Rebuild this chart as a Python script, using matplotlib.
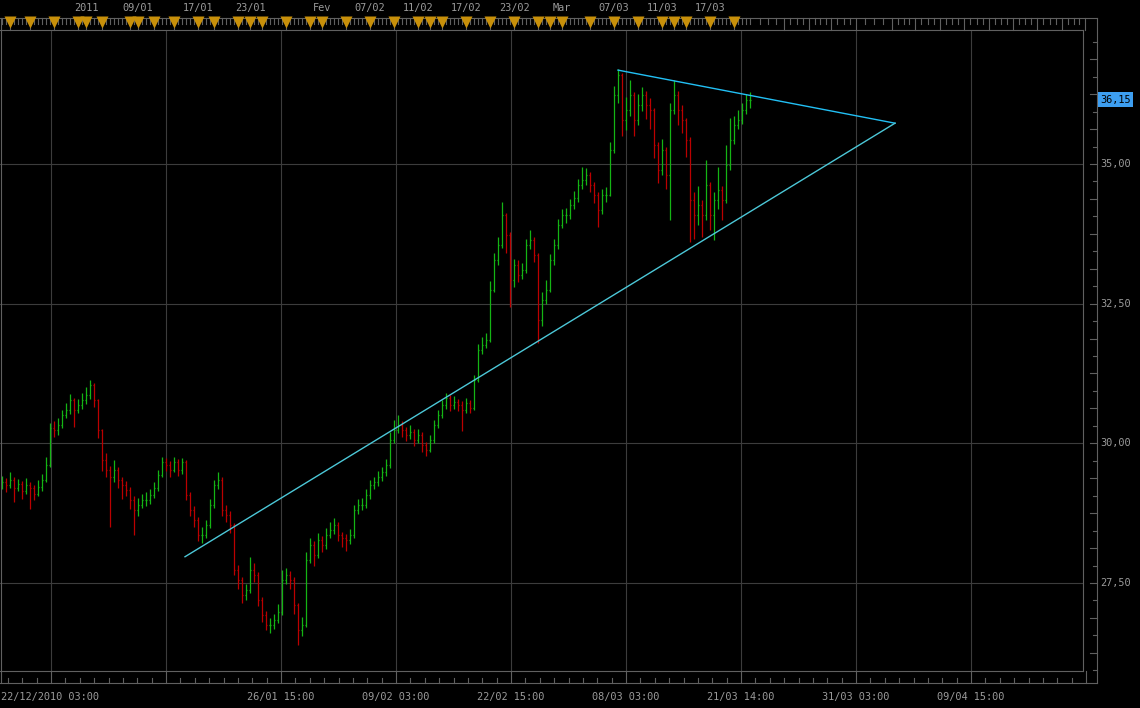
import numpy as np
import matplotlib
matplotlib.use("Agg")
import matplotlib.pyplot as plt

# hourly-ish OHLC bars (open = previous close)
first_open = 29.28
closes = [
    29.30, 29.25, 29.35, 29.20, 29.28, 29.15, 29.25, 29.20, 29.10, 29.22, 29.35,
    29.62, 30.27, 30.24, 30.33, 30.51, 30.60, 30.78, 30.60, 30.69, 30.78,
    30.87, 31.05, 30.78, 30.24, 29.70, 29.53, 29.39, 29.53, 29.35, 29.25,
    29.17, 28.99, 28.81, 28.90, 28.99, 28.99, 29.08, 29.20, 29.44, 29.67,
    29.62, 29.53, 29.67, 29.53, 29.67, 29.08, 28.81, 28.63, 28.36, 28.36,
    28.54, 28.90, 29.25, 29.35, 28.81, 28.72, 28.54, 27.74, 27.56, 27.29,
    27.38, 27.74, 27.65, 27.20, 26.93, 26.75, 26.75, 26.84, 26.98, 27.56,
    27.65, 27.56, 27.11, 26.66, 26.75, 27.92, 28.18, 28.00, 28.27, 28.18,
    28.36, 28.45, 28.54, 28.36, 28.30, 28.27, 28.36, 28.81, 28.90, 28.90,
    29.08, 29.25, 29.30, 29.39, 29.49, 29.62, 30.06, 30.24, 30.33, 30.24,
    30.15, 30.20, 30.06, 30.15, 29.97, 29.88, 30.06, 30.33, 30.51, 30.69,
    30.81, 30.69, 30.74, 30.69, 30.60, 30.72, 30.63, 31.14, 31.67, 31.76,
    31.85, 32.75, 33.28, 33.55, 34.09, 33.73, 32.92, 33.19, 33.01, 33.10,
    33.55, 33.64, 33.37, 32.21, 32.57, 32.75, 33.28, 33.55, 33.91, 34.09,
    34.09, 34.27, 34.39, 34.62, 34.71, 34.80, 34.62, 34.45, 34.18, 34.45,
    34.45, 35.25, 36.23, 36.59, 35.79, 35.97, 36.23, 35.79, 36.06, 36.23,
    36.06, 35.97, 35.34, 34.89, 35.25, 34.80, 35.97, 36.23, 35.97, 35.79,
    35.43, 34.36, 34.09, 34.27, 34.09, 34.62, 34.09, 34.36, 34.53, 34.36,
    34.98, 35.43, 35.70, 35.79, 35.97, 36.14, 36.15,
]
highs = [
    29.42, 29.38, 29.48, 29.40, 29.36, 29.32, 29.38, 29.30, 29.26, 29.34, 29.45,
    29.76, 30.36, 30.40, 30.45, 30.60, 30.72, 30.88, 30.82, 30.80, 30.90,
    31.00, 31.14, 31.08, 30.80, 30.26, 29.82, 29.60, 29.70, 29.58, 29.40,
    29.32, 29.22, 29.05, 29.02, 29.10, 29.12, 29.18, 29.30, 29.52, 29.76,
    29.74, 29.68, 29.76, 29.72, 29.74, 29.70, 29.12, 28.88, 28.68, 28.50,
    28.62, 29.00, 29.35, 29.49, 29.40, 28.90, 28.78, 28.58, 27.82, 27.60,
    27.48, 27.97, 27.85, 27.70, 27.25, 27.00, 26.88, 26.95, 27.12, 27.74,
    27.76, 27.72, 27.60, 27.15, 26.90, 28.05, 28.30, 28.25, 28.40, 28.35,
    28.48, 28.60, 28.66, 28.60, 28.42, 28.38, 28.46, 28.90, 29.00, 29.02,
    29.18, 29.35, 29.40, 29.50, 29.58, 29.72, 30.20, 30.42, 30.51, 30.40,
    30.30, 30.32, 30.25, 30.26, 30.20, 30.02, 30.15, 30.42, 30.60, 30.78,
    30.90, 30.86, 30.84, 30.80, 30.75, 30.82, 30.78, 31.22, 31.78, 31.90,
    31.98, 32.90, 33.40, 33.70, 34.32, 34.12, 33.78, 33.30, 33.28, 33.22,
    33.65, 33.82, 33.70, 33.40, 32.70, 32.92, 33.38, 33.66, 34.02, 34.20,
    34.22, 34.38, 34.52, 34.74, 34.95, 34.92, 34.86, 34.68, 34.50, 34.56,
    34.58, 35.40, 36.40, 36.70, 36.62, 36.20, 36.50, 36.28, 36.25, 36.37,
    36.30, 36.18, 36.00, 35.40, 35.45, 35.30, 36.10, 36.50, 36.30, 36.06,
    35.82, 35.48, 34.50, 34.60, 34.35, 35.07, 34.68, 34.50, 34.95, 34.60,
    35.34, 35.83, 35.85, 35.97, 36.10, 36.26, 36.28,
]
lows = [
    29.18, 29.12, 29.20, 28.95, 29.14, 29.00, 29.10, 28.82, 28.98, 29.05, 29.15,
    29.30, 29.58, 30.12, 30.15, 30.28, 30.45, 30.52, 30.30, 30.55, 30.62,
    30.70, 30.80, 30.65, 30.10, 29.50, 29.40, 28.50, 29.30, 29.20, 29.00,
    29.05, 28.82, 28.36, 28.70, 28.85, 28.88, 28.92, 29.02, 29.15, 29.40,
    29.50, 29.40, 29.48, 29.42, 29.45, 28.98, 28.70, 28.50, 28.25, 28.22,
    28.30, 28.48, 28.85, 29.18, 28.70, 28.60, 28.40, 27.65, 27.40, 27.14,
    27.20, 27.32, 27.52, 27.08, 26.80, 26.65, 26.61, 26.68, 26.78, 26.92,
    27.48, 27.40, 26.95, 26.39, 26.55, 26.72, 27.85, 27.80, 27.95, 28.05,
    28.10, 28.30, 28.38, 28.25, 28.15, 28.08, 28.20, 28.30, 28.74, 28.80,
    28.85, 29.00, 29.18, 29.24, 29.32, 29.42, 29.55, 30.00, 30.18, 30.12,
    30.05, 30.08, 29.95, 30.00, 29.85, 29.78, 29.84, 30.00, 30.28, 30.45,
    30.62, 30.58, 30.62, 30.58, 30.22, 30.55, 30.55, 30.60, 31.10, 31.60,
    31.70, 31.82, 32.70, 33.20, 33.50, 33.40, 32.44, 32.80, 32.88, 32.95,
    33.05, 33.48, 33.25, 31.80, 32.10, 32.50, 32.70, 33.20, 33.48, 33.85,
    33.95, 34.02, 34.20, 34.32, 34.55, 34.62, 34.50, 34.30, 33.87, 34.10,
    34.32, 34.42, 35.20, 36.10, 35.50, 35.60, 35.85, 35.50, 35.70, 35.95,
    35.80, 35.62, 35.10, 34.66, 34.80, 34.55, 34.00, 35.90, 35.70, 35.55,
    35.12, 33.60, 33.65, 33.90, 33.70, 34.00, 33.82, 33.64, 34.20, 34.00,
    34.30, 34.90, 35.35, 35.62, 35.72, 35.90, 36.00,
]

# trend lines (bar index, price)
upper_x = [154, 223.25]
upper_y = [36.68, 35.73]
lower_x = [45.75, 223.25]
lower_y = [27.97, 35.73]

price_grid = [27.5, 30.0, 32.5, 35.0]
first_label = "22/12/2010 03:00"
bottom_labels = ["26/01 15:00", "09/02 03:00", "22/02 15:00", "08/03 03:00",
                 "21/03 14:00", "31/03 03:00", "09/04 15:00"]
day_marks = [2, 7, 13, 19, 21, 25, 32, 34, 38, 43, 49, 53, 59, 62, 65, 71, 77,
             80, 86, 92, 98, 104, 107, 110, 116, 122, 128, 134, 137, 140, 147,
             153, 159, 165, 168, 171, 177, 183]
top_label_pos = [21, 34, 49, 62, 80, 92, 104, 116, 128, 140, 153, 165, 177]
top_labels = ["2011", "09/01", "17/01", "23/01", "Fev", "07/02", "11/02",
              "17/02", "23/02", "Mar", "07/03", "11/03", "17/03"]
future_dividers = [195.5, 201.75, 207.25, 213.5, 222.5, 228.25, 234.5, 240.5,
                   246.75, 252.75, 258.75, 265, 270.75]

GREEN = "#14b414"
RED = "#bb0000"
GRID = "#3c3c3c"
EDGE = "#606060"
TXT = "#9a9a9a"
FONT = dict(family="DejaVu Sans Mono", fontsize=7.4, color=TXT)

fig = plt.figure(figsize=(11.4, 7.08), dpi=100, facecolor="black")
ax = fig.add_axes([0, 37 / 708, 1083 / 1140, 641 / 708])
ax.set_facecolor("black")
for s in ax.spines.values():
    s.set_visible(False)
ax.set_xticks([])
ax.set_yticks([])


def fx(px):
    return px / 1083


def fy(py):
    return (671 - py) / 641


# grid
grid_x = 12.25 + 28.75 * np.arange(10)
for gx in grid_x[:9]:
    ax.axvline(gx, color=GRID, lw=0.8, zorder=0)
for gy in price_grid:
    ax.axhline(gy, color=GRID, lw=0.8, zorder=0)

# OHLC bars
c = np.array(closes)
o = np.array([first_open] + closes[:-1])
x = np.arange(len(c))
cols = np.where(c >= o, GREEN, RED)
ax.vlines(x, lows, highs, colors=cols, lw=0.9, zorder=2)
ax.hlines(o, x - 0.35, x, colors=cols, lw=0.9, zorder=2)
ax.hlines(c, x, x + 0.35, colors=cols, lw=0.9, zorder=2)

# trend lines
ax.plot(upper_x, upper_y, color="#22c0f5", lw=1.0, zorder=3)
ax.plot(lower_x, lower_y, color="#4cc8d8", lw=1.0, zorder=3)

ax.set_xlim(-0.5, 270.25)
ax.set_ylim(25.925, 37.398)

ta = ax.transAxes
tx = ax.get_xaxis_transform()
ty = ax.get_yaxis_transform()
kw = dict(color=EDGE, lw=0.8, clip_on=False)

# frame lines
ax.plot([0, fx(1097)], [fy(18), fy(18)], transform=ta, **kw)
ax.plot([0, 1], [1, 1], transform=ta, **kw)
ax.plot([0, 1], [0, 0], transform=ta, **kw)
ax.plot([0, fx(1097)], [fy(683), fy(683)], transform=ta, **kw)
ax.plot([1, 1], [0, 1], transform=ta, **kw)
ax.plot([fx(1097)] * 2, [fy(683), fy(18)], transform=ta, **kw)
ax.plot([fx(0.5)] * 2, [fy(683), fy(18)], transform=ta, **kw)

# bottom strip ticks
for gx in grid_x:
    ax.plot([gx, gx], [fy(683), 0], transform=tx, **kw)
minor = np.arange(12.25 - 28.75, 272, 28.75 / 8)
for mx in minor:
    if mx < -0.4 or np.any(np.isclose(mx, grid_x)):
        continue
    ax.plot([mx, mx], [fy(683), fy(678)], transform=tx, **kw)

# top strip ticks + day markers
for k in x:
    if k not in day_marks:
        ax.plot([k, k], [fy(18), fy(24)], transform=tx, **kw)
for k in day_marks:
    ax.plot([k, k], [fy(25), fy(30)], transform=tx, **kw)
ax.plot(day_marks, [fy(22)] * len(day_marks), transform=tx, ls="none",
        marker="v", ms=8, color="#c8900a", mec="none", clip_on=False)
prev = len(c) - 0.5
for d in future_dividers:
    for j in range(1, 4):
        t = prev + (d - prev) * j / 4
        ax.plot([t, t], [fy(18), fy(24)], transform=tx, **kw)
    ax.plot([d, d], [fy(18), fy(30)], transform=tx, **kw)
    prev = d
for pos, lab in zip(top_label_pos, top_labels):
    ax.text(pos, fy(8), lab, transform=tx, ha="center", va="center", **FONT)

# bottom labels
ax.text(fx(1), fy(697), first_label, transform=ta, ha="left", va="center", **FONT)
for gx, lab in zip(grid_x[2:9], bottom_labels):
    ax.text(gx, fy(697), lab, transform=tx, ha="center", va="center", **FONT)

# right price scale
ticks = np.arange(25.9375, 37.39, 0.3125)
for t in ticks:
    long_tick = round(t / 0.3125) % 2 == 0
    x0 = fx(1090) if long_tick else fx(1093)
    ax.plot([x0, fx(1097)], [t, t], transform=ty, **kw)
for gy in price_grid:
    ax.text(fx(1100), gy, f"{gy:.2f}".replace(".", ","), transform=ty,
            ha="left", va="center", **FONT)
last = dict(FONT)
last["color"] = "black"
ax.text(fx(1100), closes[-1], f"{closes[-1]:.2f}".replace(".", ","),
        transform=ty, ha="left", va="center",
        bbox=dict(boxstyle="square,pad=0.22", fc="#3d9ef0", ec="none"), **last)

fig.savefig("out.png", dpi=100, facecolor="black")
